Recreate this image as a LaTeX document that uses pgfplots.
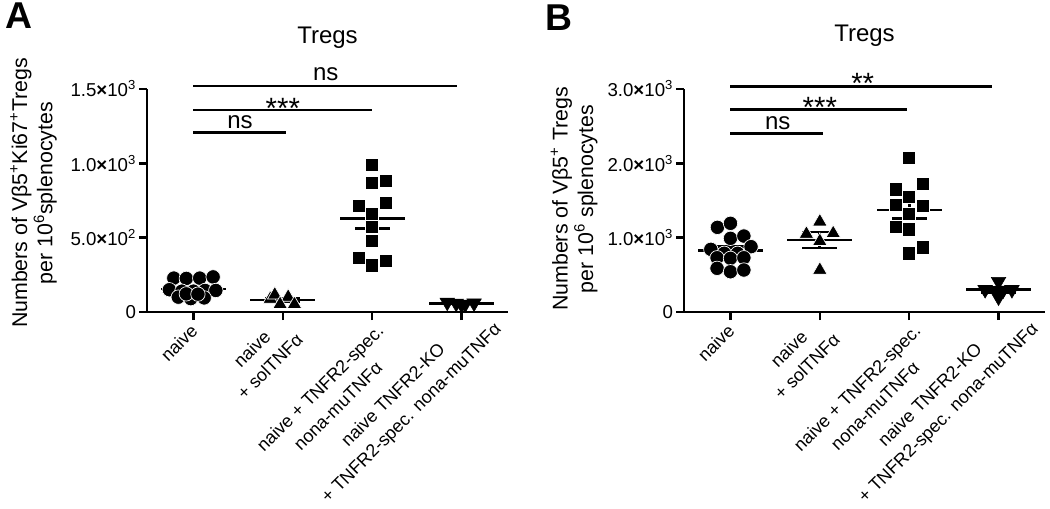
\documentclass[border=0pt]{standalone}
\usepackage{pgfplots}
\pgfplotsset{compat=1.18}
\usepackage{fontspec}
\setmainfont{Liberation Sans}
\newcommand{\tx}{\textbf{×}}
\pgfplotsset{
  prism/.style={
    scale only axis, width=270.75pt, height=167.25pt,
    axis x line*=bottom, axis y line*=left,
    axis line style={line width=1.8pt},
    xmin=-0.52, xmax=3.52, ymin=0,
    xtick={0,1,2,3}, xticklabels={,,,},
    tick align=outside, major tick length=6pt,
    tick style={black, line width=1.8pt},
    y tick label style={font=\fontsize{14}{16}\selectfont, inner sep=2pt},
    clip=false, anchor=south west, unbounded coords=jump,
  },
  meanline/.style={black, line width=2pt, line cap=rect, forget plot},
  sig/.style={black, line width=2pt, forget plot},
  dots/.style={only marks, mark size=#1, mark options={fill=black, draw=white, line width=0.5pt}},
}
\tikzset{xlab/.style={rotate=45, anchor=north east, align=center, inner sep=0pt, font=\fontsize{13.5}{19}\selectfont}}
\newcommand{\xlabels}{%
\node[xshift=-3pt, yshift=-8pt, xlab] at (axis cs:0,0) {naive};
\node[xshift=-4.5pt, yshift=-1.5pt, xlab] at (axis cs:1,0) {naive\\+ solTNFα};
\node[xshift=2.5pt, yshift=-8pt, xlab] at (axis cs:2,0) {naive + TNFR2-spec.\\nona-muTNFα};
\node[xshift=10pt, yshift=7pt, xlab] at (axis cs:3,0) {naive TNFR2-KO\\+ TNFR2-spec. nona-muTNFα};
}
\begin{document}
\begin{tikzpicture}
\useasboundingbox (0,0) rectangle (787.5pt,-381pt);
% ---------------- Panel A ----------------
\begin{axis}[prism, at={(110.25pt,-234pt)}, ymax=1500,
  ytick={0,500,1000,1500},
  yticklabels={0, 5.0\tx10\textsuperscript{2}, 1.0\tx10\textsuperscript{3}, 1.5\tx10\textsuperscript{3}}]
\addplot[dots=5.4pt, mark=*] coordinates {
 (-0.22,228) (-0.08,226) (0.07,228) (0.22,236) (-0.27,150) (-0.13,140) (0.0,140)
 (0.13,145) (0.25,145) (-0.17,100) (-0.03,90) (0.12,95) (-0.08,122) (0.05,120)};
\addplot[dots=6.3pt, mark=triangle*] coordinates {
 (0.86,88) (0.91,116) (1.06,101) (0.97,52) (1.13,52)};
\addplot[dots=4.9pt, mark=square*] coordinates {
 (2,993) (2,868) (2.15,881) (1.85,713) (2.15,736) (2,662) (2,576) (2,476) (1.85,366) (2.15,346) (2,314)};
\addplot[dots=6.3pt, mark=triangle*, mark options={rotate=180}] coordinates {
 (2.84,65) (2.94,58) (3.04,52) (3.14,60) (3.0,50)};
% mean and SEM
\addplot[meanline] coordinates {(-0.35,154.6) (0.35,154.6) (0,nan) (0,140.5) (0,168.7) (0,nan) (-0.18,140.5) (0.18,140.5) (0,nan) (-0.18,168.7) (0.18,168.7)};
\addplot[meanline] coordinates {(0.65,81.8) (1.35,81.8) (1,nan) (1,68.9) (1,94.8) (1,nan) (0.82,68.9) (1.18,68.9) (1,nan) (0.82,94.8) (1.18,94.8)};
\addplot[meanline] coordinates {(1.65,630.1) (2.35,630.1) (2,nan) (2,559.6) (2,700.6) (2,nan) (1.82,559.6) (2.18,559.6) (2,nan) (1.82,700.6) (2.18,700.6)};
\addplot[meanline] coordinates {(2.65,57) (3.35,57) (3,nan) (3,54.3) (3,59.7) (3,nan) (2.82,54.3) (3.18,54.3) (3,nan) (2.82,59.7) (3.18,59.7)};
% significance
\addplot[sig] coordinates {(0,1206) (1.03,1206)};
\addplot[sig] coordinates {(0,1359) (2.0,1359)};
\addplot[sig] coordinates {(0,1520) (2.95,1520)};
\node[anchor=base, inner sep=0, font=\fontsize{18}{20}\selectfont] at (axis cs:0.52,1236) {ns};
\node[anchor=base, inner sep=0, font=\fontsize{22}{24}\selectfont] at (axis cs:1.0,1305) {***};
\node[anchor=base, inner sep=0, font=\fontsize{18}{20}\selectfont] at (axis cs:1.48,1554) {ns};
\node[anchor=base, inner sep=0, font=\fontsize{18}{20}\selectfont] at (axis cs:1.5,1809) {Tregs};
\node[rotate=90, align=center, inner sep=0, font=\fontsize{16}{19}\selectfont] at (axis cs:-1.79,800)
 {Numbers of Vβ5\textsuperscript{+}Ki67\textsuperscript{+}Tregs\\per 10\textsuperscript{6}splenocytes};
\xlabels
\end{axis}
% ---------------- Panel B ----------------
\begin{axis}[prism, at={(513pt,-234pt)}, ymax=3000,
  ytick={0,1000,2000,3000},
  yticklabels={0, 1.0\tx10\textsuperscript{3}, 2.0\tx10\textsuperscript{3}, 3.0\tx10\textsuperscript{3}}]
\addplot[dots=5.4pt, mark=*] coordinates {
 (-0.146,1139) (0,1193) (0,991) (0.15,1022) (-0.22,843) (0.23,879) (-0.07,790) (0.08,790)
 (-0.15,730) (0,722) (0.15,730) (-0.15,588) (0,542) (0.15,565)};
\addplot[dots=6.3pt, mark=triangle*] coordinates {
 (1,1215) (0.85,1050) (1.15,1058) (1,952) (1,565)};
\addplot[dots=4.9pt, mark=square*] coordinates {
 (2,2076) (2.15,1722) (1.85,1650) (2,1551) (1.85,1439) (2.15,1426) (2,1318) (1.85,1148) (2,1112) (2.15,870) (2,789)};
\addplot[dots=6.3pt, mark=triangle*, mark options={rotate=180}] coordinates {
 (3,410) (2.85,300) (3.05,290) (3.15,300) (3.0,200)};
\addplot[meanline] coordinates {(-0.35,823.1) (0.35,823.1) (0,nan) (0,768.7) (0,877.5) (0,nan) (-0.18,768.7) (0.18,768.7) (0,nan) (-0.18,877.5) (0.18,877.5)};
\addplot[meanline] coordinates {(0.65,968) (1.35,968) (1,nan) (1,859) (1,1077) (1,nan) (0.82,859) (1.18,859) (1,nan) (0.82,1077) (1.18,1077)};
\addplot[meanline] coordinates {(1.65,1372.8) (2.35,1372.8) (2,nan) (2,1258) (2,1487.5) (2,nan) (1.82,1258) (2.18,1258) (2,nan) (1.82,1487.5) (2.18,1487.5)};
\addplot[meanline] coordinates {(2.65,300) (3.35,300) (3,nan) (3,266.7) (3,333.3) (3,nan) (2.82,266.7) (3.18,266.7) (3,nan) (2.82,333.3) (3.18,333.3)};
\addplot[sig] coordinates {(0,2403) (1.03,2403)};
\addplot[sig] coordinates {(0,2726) (1.98,2726)};
\addplot[sig] coordinates {(0,3030) (2.93,3030)};
\node[anchor=base, inner sep=0, font=\fontsize{18}{20}\selectfont] at (axis cs:0.53,2457) {ns};
\node[anchor=base, inner sep=0, font=\fontsize{22}{24}\selectfont] at (axis cs:1.0,2618) {***};
\node[anchor=base, inner sep=0, font=\fontsize{22}{24}\selectfont] at (axis cs:1.48,2945) {**};
\node[anchor=base, inner sep=0, font=\fontsize{18}{20}\selectfont] at (axis cs:1.5,3636) {Tregs};
\node[rotate=90, align=center, inner sep=0, font=\fontsize{16}{19}\selectfont] at (axis cs:-1.75,1520)
 {Numbers of Vβ5\textsuperscript{+} Tregs\\per 10\textsuperscript{6} splenocytes};
\xlabels
\end{axis}
\node[anchor=north west, inner sep=0, font=\bfseries\fontsize{28}{30}\selectfont] at (3.75pt,-2.25pt) {A};
\node[anchor=north west, inner sep=0, font=\bfseries\fontsize{28}{30}\selectfont] at (408.75pt,-3.75pt) {B};
\end{tikzpicture}
\end{document}
